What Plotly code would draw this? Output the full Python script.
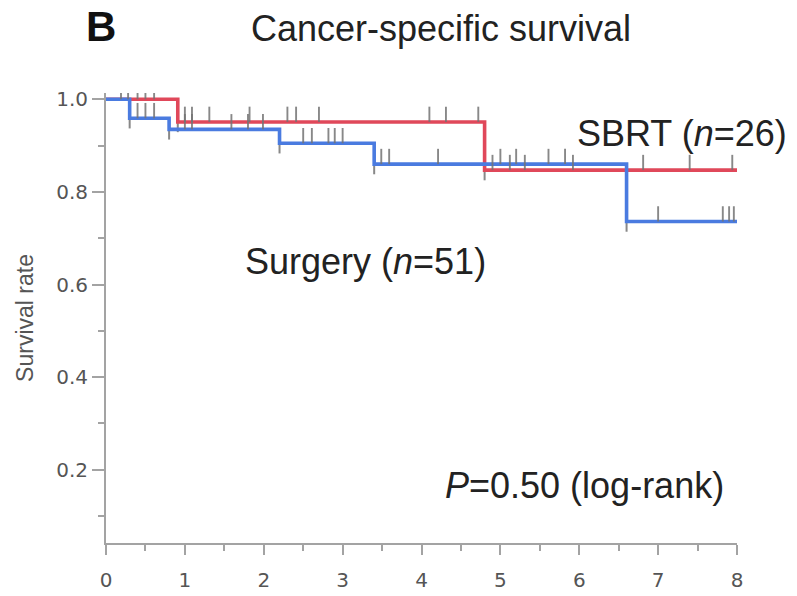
import plotly.graph_objects as go

# Kaplan-Meier step data (years, survival probability)
sbrt_event_times = [0.91, 4.80]
sbrt_surv = [0.951, 0.847]
sbrt_censor = [0.28, 0.40, 0.50, 0.61, 1.00, 1.09, 1.31, 1.82, 2.30, 2.41,
               2.70, 4.10, 4.31, 4.72, 4.90, 5.12, 5.31, 5.92, 6.81, 7.40, 7.94]

surg_event_times = [0.30, 0.80, 2.20, 3.40, 6.60]
surg_surv = [0.959, 0.935, 0.905, 0.860, 0.736]
surg_censor = [0.19, 0.40, 0.50, 0.61, 1.00, 1.09, 1.59, 1.80, 1.99, 2.50,
               2.61, 2.82, 2.90, 3.00, 3.49, 3.59, 4.21, 5.00, 5.20, 5.61,
               5.82, 7.00, 7.82, 7.90, 7.96]

x_max = 8
x_ticks = [0, 1, 2, 3, 4, 5, 6, 7, 8]
y_ticks = [0.2, 0.4, 0.6, 0.8, 1.0]
y_tick_text = ["0.2", "0.4", "0.6", "0.8", "1.0"]

RED = "#e0485a"
BLUE = "#4a7be0"
GREY = "rgba(115,115,115,0.85)"
TICK_H = 0.033
DROP_EXT = 0.022


def step_xy(times, surv):
    xs = [0] + list(times) + [x_max]
    ys = [1.0] + list(surv) + [surv[-1]]
    return xs, ys


def level_at(t, times, surv):
    s = 1.0
    for ti, si in zip(times, surv):
        if t >= ti:
            s = si
    return s


def censor_segments(cens, times, surv):
    xs, ys = [], []
    for c in cens:
        lv = level_at(c, times, surv)
        xs += [c, c, None]
        ys += [lv, lv + TICK_H, None]
    return xs, ys


def drop_segments(times, surv):
    xs, ys = [], []
    for t, s in zip(times, surv):
        xs += [t, t, None]
        ys += [s - DROP_EXT, s, None]
    return xs, ys


fig = go.Figure()

for times, surv in [(sbrt_event_times, sbrt_surv), (surg_event_times, surg_surv)]:
    dx, dy = drop_segments(times, surv)
    fig.add_trace(go.Scatter(x=dx, y=dy, mode="lines", cliponaxis=False,
                             line=dict(color=GREY, width=2), hoverinfo="skip",
                             showlegend=False))

sx, sy = step_xy(sbrt_event_times, sbrt_surv)
fig.add_trace(go.Scatter(x=sx, y=sy, mode="lines", line_shape="hv", cliponaxis=False,
                         line=dict(color=RED, width=3.6), name="SBRT", showlegend=False))
gx, gy = step_xy(surg_event_times, surg_surv)
fig.add_trace(go.Scatter(x=gx, y=gy, mode="lines", line_shape="hv", cliponaxis=False,
                         line=dict(color=BLUE, width=3.6), name="Surgery", showlegend=False))

for cens, times, surv in [(sbrt_censor, sbrt_event_times, sbrt_surv),
                          (surg_censor, surg_event_times, surg_surv)]:
    cx, cy = censor_segments(cens, times, surv)
    fig.add_trace(go.Scatter(x=cx, y=cy, mode="lines", cliponaxis=False,
                             line=dict(color=GREY, width=1.9), hoverinfo="skip",
                             showlegend=False))

TEXT_FONT = dict(family="Liberation Sans, Arial, sans-serif", size=36, color="#222222")

fig.add_annotation(x=5.94, y=0.927, xref="x", yref="y", text="SBRT (<i>n</i>=26)",
                   showarrow=False, xanchor="left", yanchor="middle", font=TEXT_FONT)
fig.add_annotation(x=1.74, y=0.649, xref="x", yref="y", text="Surgery (<i>n</i>=51)",
                   showarrow=False, xanchor="left", yanchor="middle", font=TEXT_FONT)
fig.add_annotation(x=4.27, y=0.166, xref="x", yref="y", text="<i>P</i>=0.50 (log-rank)",
                   showarrow=False, xanchor="left", yanchor="middle", font=TEXT_FONT)

fig.add_annotation(x=441, y=596 - 28, xref="paper", yref="paper", text="Cancer-specific survival",
                   showarrow=False, xanchor="center", yanchor="middle",
                   font=dict(family="Liberation Sans, Arial, sans-serif", size=36, color="#222222"))
fig.add_annotation(x=101, y=596 - 27, xref="paper", yref="paper", text="<b>B</b>",
                   showarrow=False, xanchor="center", yanchor="middle",
                   font=dict(family="Liberation Sans, Arial, sans-serif", size=42, color="#111111"))

AXIS_GREY = "#a3a3a3"
TICK_FONT = dict(family="DejaVu Sans, Verdana, sans-serif", size=20, color="#555555")

fig.update_xaxes(range=[0, x_max], tickvals=x_ticks, ticktext=[str(v) for v in x_ticks],
                 showgrid=False, zeroline=False, showline=True, linecolor=AXIS_GREY,
                 linewidth=2, ticks="outside", ticklen=10, tickwidth=1.5, tickcolor=AXIS_GREY,
                 minor=dict(dtick=0.5, tick0=0, ticks="outside", ticklen=6, tickwidth=1.5,
                            tickcolor=AXIS_GREY, showgrid=False),
                 tickfont=TICK_FONT, ticklabelstandoff=8, automargin=False)
fig.update_yaxes(range=[0.042, 1.0135], tickvals=y_ticks, ticktext=y_tick_text,
                 showgrid=False, zeroline=False, showline=True, linecolor=AXIS_GREY,
                 linewidth=2, ticks="outside", ticklen=12, tickwidth=1.5, tickcolor=AXIS_GREY,
                 minor=dict(dtick=0.1, tick0=0, ticks="outside", ticklen=6, tickwidth=1.5,
                            tickcolor=AXIS_GREY, showgrid=False),
                 tickfont=TICK_FONT, automargin=False,
                 title=dict(text="Survival rate", standoff=16,
                            font=dict(family="Liberation Sans, Arial, sans-serif", size=23,
                                      color="#555555")))

fig.update_layout(width=797, height=596, margin=dict(l=106, r=60, t=93, b=53),
                  plot_bgcolor="white", paper_bgcolor="white")

# header texts are placed in pixel units above; convert them to paper fractions
for ann in fig.layout.annotations:
    if ann.xref == "paper":
        ann.x = (ann.x - 106) / (797 - 106 - 60)
        ann.y = (ann.y - 53) / (596 - 93 - 53)

fig.write_html("out.html")
